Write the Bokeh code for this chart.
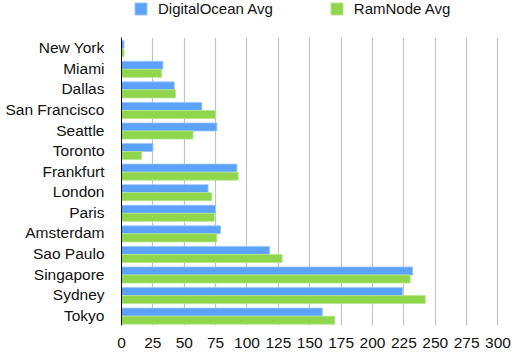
from bokeh.plotting import figure
from bokeh.models import ColumnDataSource, FactorRange, Range1d, Legend, LegendItem, FixedTicker
from bokeh.transform import dodge
from bokeh.layouts import column
from bokeh.embed import file_html
from bokeh.resources import INLINE

cities = ["New York", "Miami", "Dallas", "San Francisco", "Seattle", "Toronto", "Frankfurt",
          "London", "Paris", "Amsterdam", "Sao Paulo", "Singapore", "Sydney", "Tokyo"]
digitalocean_avg = [2, 33, 42, 64, 76, 25, 92, 69, 75, 79, 118, 232, 224, 160]
ramnode_avg = [2, 32, 43, 75, 57, 16, 93, 72, 74, 76, 128, 230, 242, 170]
x_ticks = [0, 25, 50, 75, 100, 125, 150, 175, 200, 225, 250, 275, 300]
series_names = ["DigitalOcean Avg", "RamNode Avg"]

BLUE = "#5ca1fa"
GREEN = "#8fd64c"
FONT = "Liberation Sans"
FS = "15.5px"

src = ColumnDataSource(dict(city=cities, do=digitalocean_avg, rn=ramnode_avg))

p = figure(width=521, height=316, output_backend="svg", toolbar_location=None,
           y_range=FactorRange(factors=list(reversed(cities)), range_padding=0),
           x_range=Range1d(0, 302),
           min_border_left=121, min_border_right=21, min_border_top=0, min_border_bottom=28)
p.outline_line_color = None

r1 = p.hbar(y=dodge("city", 0.15, range=p.y_range), right="do", left=0, height=0.39,
            source=src, fill_color=BLUE, line_color="#9cc6fb", line_width=0.8)
r2 = p.hbar(y=dodge("city", -0.24, range=p.y_range), right="rn", left=0, height=0.39,
            source=src, fill_color=GREEN, line_color="#b5e58a", line_width=0.8)

# axes
p.xaxis.ticker = FixedTicker(ticks=x_ticks)
p.xaxis.axis_line_color = None
p.xaxis.major_tick_line_color = None
p.xaxis.minor_tick_line_color = None
p.xaxis.major_label_text_font = FONT
p.xaxis.major_label_text_font_size = FS
p.xaxis.major_label_text_color = "#111111"
p.xaxis.major_label_standoff = 6

p.yaxis.axis_line_color = "#111111"
p.yaxis.axis_line_width = 1
p.yaxis.major_tick_line_color = None
p.yaxis.minor_tick_line_color = None
p.yaxis.major_label_text_font = FONT
p.yaxis.major_label_text_font_size = FS
p.yaxis.major_label_text_color = "#111111"
p.yaxis.major_label_standoff = 11

p.ygrid.grid_line_color = None
p.xgrid.grid_line_color = "#c4c4c4"
p.xgrid.grid_line_width = 1.2

# legend strip on top (its frame is aligned with the main frame by the column layout)
lf = figure(width=521, height=37, output_backend="svg", toolbar_location=None,
            x_range=Range1d(0, 1), y_range=Range1d(0, 1),
            min_border_left=121, min_border_right=21, min_border_top=0, min_border_bottom=0)
lf.axis.visible = False
lf.grid.visible = False
lf.outline_line_color = None
dummy = ColumnDataSource(dict(y=[float("nan")], right=[float("nan")]))
d1 = lf.hbar(y="y", right="right", height=0.5, source=dummy, fill_color=BLUE, line_color="#9cc6fb")
d2 = lf.hbar(y="y", right="right", height=0.5, source=dummy, fill_color=GREEN, line_color="#b5e58a")

legend = Legend(items=[LegendItem(label=series_names[0], renderers=[d1]),
                       LegendItem(label=series_names[1], renderers=[d2])],
                orientation="horizontal", location=(12, 20),
                glyph_width=15, glyph_height=15, label_standoff=10, spacing=56,
                padding=0, margin=0, border_line_color=None, background_fill_alpha=0,
                label_text_font=FONT, label_text_font_size="15px",
                label_text_color="#111111", label_height=15)
lf.add_layout(legend, "center")

layout = column(lf, p, spacing=0)
open("out.html", "w").write(file_html(layout, INLINE))
